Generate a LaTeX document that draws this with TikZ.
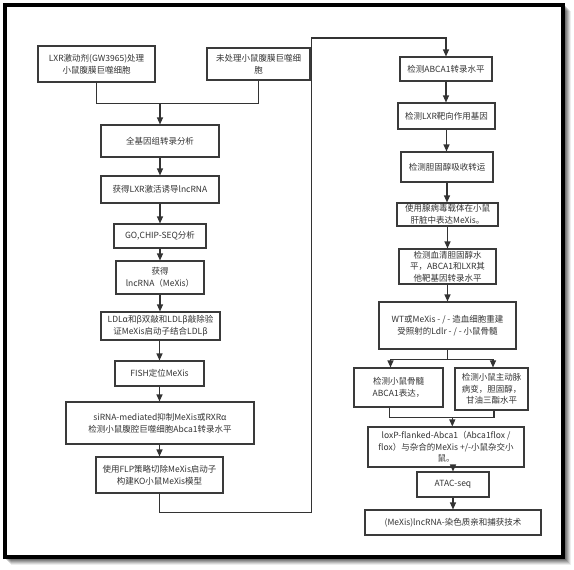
\documentclass[tikz,border=0pt]{standalone}
\usepackage{fontspec}
\setmainfont{Noto Sans CJK SC}
\usetikzlibrary{arrows.meta}
\definecolor{ink}{HTML}{333333}
\definecolor{edge}{HTML}{3A3A3A}
\tikzset{
  box/.style={draw=edge, line width=1.1pt, fill=white, align=center, text=ink,
    inner sep=0pt, font=\fontsize{8.5pt}{11.6pt}\selectfont},
  conn/.style={draw=ink, line width=1.1pt},
  arr/.style={conn, -{Triangle[length=7pt,width=6pt]}},
}
\begin{document}
\begin{tikzpicture}[x=1pt,y=-1pt]
\useasboundingbox (0,0) rectangle (574,570);
% frame with shadow
\foreach \k/\o in {1/0.18,2/0.16,3/0.14,4/0.12,5/0.10,6/0.07}{
  \fill[black, opacity=\o] (5+\k,5+\k) rectangle (565+\k,559+\k);
}
\filldraw[fill=white, draw=black, line width=4.2pt] (5,5) rectangle (563,557);

% left column
\node[box, minimum width=117, minimum height=36] (A) at (96.5,64) {LXR激动剂(GW3965)处理\\小鼠腹膜巨噬细胞};
\node[box, minimum width=103, minimum height=32] (B) at (258.5,64) {未处理小鼠腹膜巨噬细\\胞};
\node[box, minimum width=118, minimum height=32] (C) at (160,141) {全基因组转录分析};
\node[box, minimum width=118, minimum height=27] (D) at (160,189.5) {获得LXR激活诱导lncRNA};
\node[box, minimum width=92, minimum height=24] (E) at (160,236) {GO,CHIP-SEQ分析};
\node[box, minimum width=88, minimum height=33] (F) at (160,277.5) {获得\\lncRNA（MeXis）};
\node[box, minimum width=119, minimum height=28] (G) at (160.5,326) {LDLα和β双敲和LDLβ敲除验\\证MeXis启动子结合LDLβ};
\node[box, minimum width=89, minimum height=25] (H) at (159.5,373.5) {FISH定位MeXis};
\node[box, minimum width=188, minimum height=42] (I) at (160,423) {siRNA-mediated抑制MeXis或RXRα\\检测小鼠腹腔巨噬细胞Abca1转录水平};
\node[box, minimum width=127, minimum height=36] (J) at (159.5,475) {使用FLP策略切除MeXis启动子\\构建KO小鼠MeXis模型};

% right column
\node[box, minimum width=92, minimum height=24] (K) at (446,69) {检测ABCA1转录水平};
\node[box, minimum width=97, minimum height=26] (L) at (446.5,116) {检测LXR靶向作用基因};
\node[box, minimum width=92, minimum height=30] (M) at (447,167) {检测胆固醇吸收转运};
\node[box, minimum width=101, minimum height=23] (N) at (447.5,214.5) {使用腺病毒载体在小鼠\\肝脏中表达MeXis。};
\node[box, minimum width=97, minimum height=35] (O) at (447.5,266.5) {检测血清胆固醇水\\平，ABCA1和LXR其\\他靶基因转录水平};
\node[box, minimum width=137, minimum height=47] (P) at (447.5,325.5) {WT或MeXis - / - 造血细胞重建\\受照射的Ldlr - / - 小鼠骨髓};
\node[box, minimum width=89, minimum height=39] (Q) at (398.5,387.5) {检测小鼠骨髓\\ABCA1表达，};
\node[box, minimum width=73, minimum height=42] (R) at (491.5,389) {检测小鼠主动脉\\病变，胆固醇，\\甘油三酯水平};
\node[box, minimum width=156, minimum height=40] (S) at (446,447) {loxP-flanked-Abca1（Abca1flox /\\flox）与杂合的MeXis +/-小鼠杂交小\\鼠。};
\node[box, minimum width=72, minimum height=25] (T) at (453,484.5) {ATAC-seq};
\node[box, minimum width=176, minimum height=25] (U) at (453,522.5) {(MeXis)lncRNA-染色质亲和捕获技术};

% connectors left
\coordinate (j1) at (160,103.7);
\draw[conn] (A.south) |- (j1);
\draw[conn] (B.south) |- (j1);
\draw[arr] (j1) -- (j1 |- C.north);
\draw[arr] (C.south) -- (C.south |- D.north);
\draw[arr] (D.south) -- (D.south |- E.north);
\draw[arr] (E.south) -- (E.south |- F.north);
\draw[arr] (F.south) -- (F.south |- G.north);
\draw[arr] (G.south -| H.south) -- (H.north);
\draw[arr] (H.south) -- (H.south |- I.north);
\draw[arr] (J.north |- I.south) -- (J.north);

% long connector
\coordinate (l2) at (311.7,512.3);
\coordinate (l3) at (311.7,38);
\draw[arr] (J.south) |- (l2) -- (l3) -| (K.north);

% connectors right
\draw[arr] (K.south) -- (K.south |- L.north);
\draw[arr] (L.south) -- (L.south |- M.north);
\draw[arr] (M.south) -- (M.south |- N.north);
\draw[arr] (N.south) -- (N.south |- O.north);
\draw[arr] (O.south) -- (O.south |- P.north);

\coordinate (pj) at (447.5,359.3);
\coordinate (qj) at (390.5,359.3);
\coordinate (rj) at (493,359.3);
\draw[conn] (P.south) -- (pj);
\draw[conn] (qj) -- (rj);
\draw[arr] (qj) -- (qj |- Q.north);
\draw[arr] (rj) -- (rj |- R.north);

\coordinate (qb) at (389.3,417.3);
\coordinate (rb) at (494,417.3);
\coordinate (sj) at (452.3,417.3);
\draw[conn] (Q.south -| qb) -- (qb) -- (rb) -- (R.south -| rb);
\draw[arr] (sj) -- (sj |- S.north);
\draw[arr] (T.north |- S.south) -- (T.north);
\draw[arr] (T.south) -- (U.north);
\end{tikzpicture}
\end{document}
